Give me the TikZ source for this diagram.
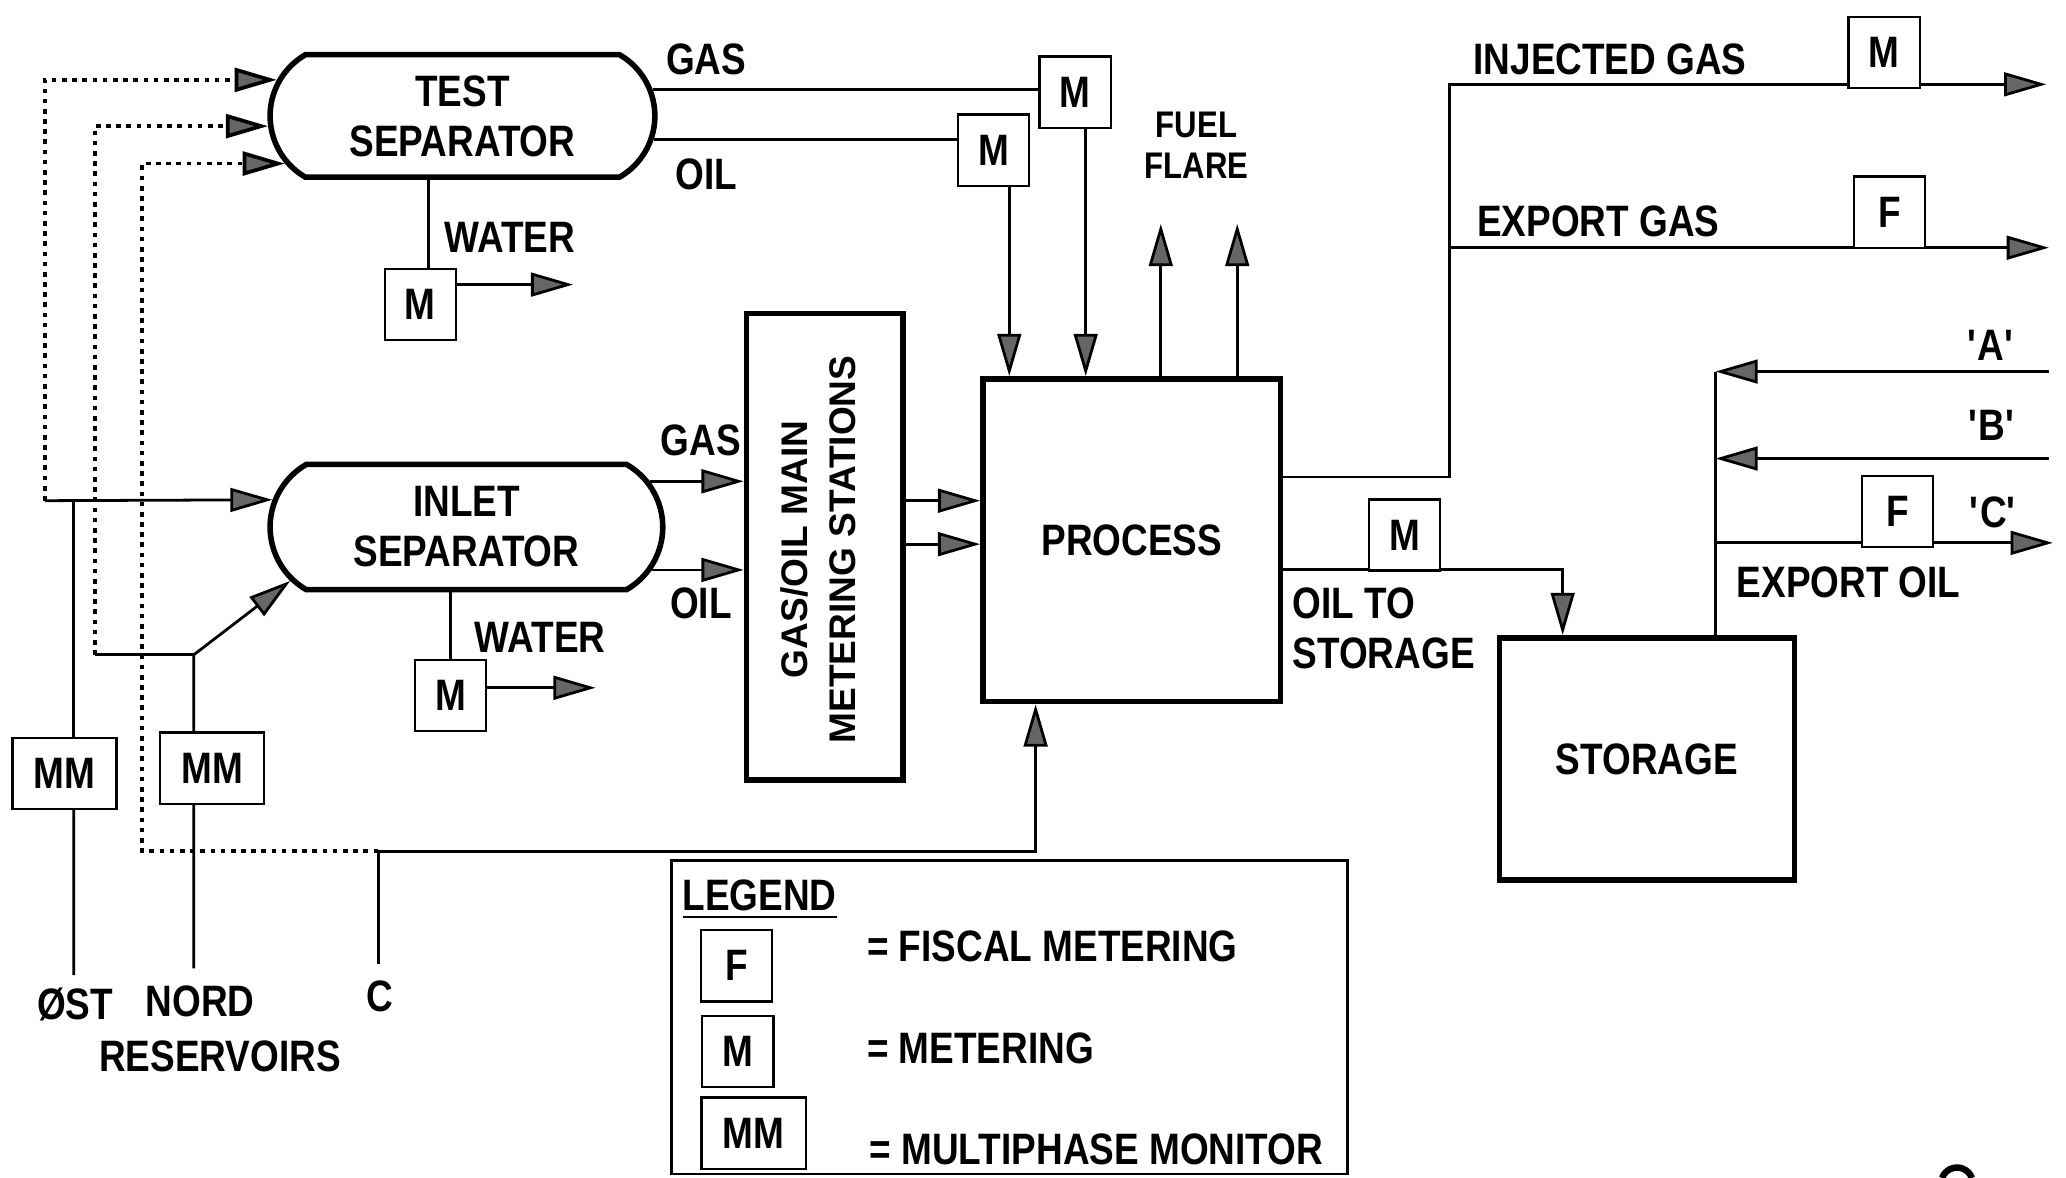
\documentclass[tikz,border=0pt]{standalone}
\usepackage{fontspec}
\setmainfont{Liberation Sans}[FakeStretch=0.84]
\newfontfamily\stationfont{Liberation Sans}
\usetikzlibrary{arrows.meta, shapes.misc, calc}

\begin{document}
\begin{tikzpicture}[x=0.1mm, y=-0.1mm, line width=0.6pt,
  every node/.style={font=\bfseries\fontsize{9.5}{10.8}\selectfont, inner sep=0pt, align=center},
  flow/.style={-{Triangle[length=3.2mm, width=1.8mm, fill=black!60]}},
  testline/.style={line width=0.8pt, dash pattern=on 1pt off 1.2pt},
  vessel/.style={draw, rounded rectangle, rounded rectangle arc length=120, line width=1.2pt},
  unit/.style={draw, line width=1.2pt},
  meter/.style={draw, fill=white, line width=0.5pt, minimum width=5.4mm, minimum height=5.4mm},
  mmeter/.style={meter, minimum width=7.9mm}]

\useasboundingbox (0,0) rectangle (1568,894);

% 装置
\node[vessel, minimum width=29.2mm, minimum height=9.3mm] (testsep) at (351,88) {TEST\\SEPARATOR};
\node[vessel, minimum width=29.8mm, minimum height=9.5mm] (inletsep) at (354,400) {INLET\\SEPARATOR};
\node[unit, minimum width=11.9mm, minimum height=35.4mm] (mstation) at (626,415) {};
\node[rotate=90, font=\stationfont\bfseries\fontsize{8}{10.5}\selectfont] (mslabel) at (621,417) {GAS/OIL MAIN\\METERING STATIONS};
\node[unit, minimum width=22.6mm, minimum height=24.5mm] (process) at (859,410) {PROCESS};
\node[unit, minimum width=22.4mm, minimum height=18.4mm] (storage) at (1250,576) {STORAGE};

% メータ
\foreach \n/\x/\y/\t in {mgas/816/70/M, moil/754/114/M, mtw/319/231/M, miw/342/528/M,
    minj/1430/40/M, fgas/1434/161/F, mstor/1066/406/M, foil/1440/388/F}
  \node[meter] (\n) at (\x,\y) {\t};
\node[mmeter] (mmost) at (49,587) {MM};
\node[mmeter] (mmnord) at (161,583) {MM};

% テストセパレータ
\draw (testsep.8) -- (testsep.8 -| mgas.west);
\draw (testsep.353) -- (testsep.353 -| moil.west);
\coordinate (oilin) at ([xshift=1.2mm]moil.south);
\coordinate (gasin) at ([xshift=0.8mm]mgas.south);
\draw[flow] (oilin) -- (oilin |- process.north);
\draw[flow] (gasin) -- (gasin |- process.north);
\coordinate (twout) at ([xshift=0.6mm]mtw.north);
\coordinate (twend) at (435,216);
\draw (twout |- testsep.south) -- (twout);
\draw[flow] (mtw.east |- twend) -- (twend);

% インレットセパレータ
\draw (inletsep.south -| miw.north) -- (miw.north);
\coordinate (iwend) at (452,522);
\draw[flow] (miw.east |- iwend) -- (iwend);
\draw[flow] (inletsep.14) -- (inletsep.14 -| mstation.west);
\draw[flow] (inletsep.347) -- (inletsep.347 -| mstation.west);
\coordinate (pin1) at ([yshift=3mm]process.west);
\coordinate (pin2) at ([yshift=-0.3mm]process.west);
\draw[flow] (pin1 -| mstation.east) -- (pin1);
\draw[flow] (pin2 -| mstation.east) -- (pin2);

% 燃料・フレア
\coordinate (fuel) at (881,170);
\coordinate (flare) at (939,170);
\draw[flow] (fuel |- process.north) -- (fuel);
\draw[flow] (flare |- process.north) -- (flare);

% ガス出口
\coordinate (gasout) at ([yshift=4.8mm]process.east);
\coordinate (riser) at (1100,64);
\coordinate (injend) at (1553,64);
\coordinate (expend) at (1555,188);
\draw (gasout) -| (riser) -- (riser -| minj.west);
\draw[flow] (minj.east |- injend) -- (injend);
\draw (riser |- expend) -- (expend -| fgas.west);
\draw[flow] (fgas.east |- expend) -- (expend);

% 貯蔵
\coordinate (oilout) at ([yshift=-2.2mm]process.east);
\coordinate (stin) at ([xshift=-6.4mm]storage.north);
\draw (oilout) -- (oilout -| mstor.west);
\draw[flow] (mstor.east |- oilout) -| (stin);
\coordinate (expoil) at ([xshift=5.2mm]storage.north);
\coordinate (aend) at (1555,282);
\coordinate (bend) at (1555,348);
\coordinate (cexp) at (1558,412);
\draw (expoil) -- (expoil |- aend);
\draw[flow] (aend) -- (aend -| expoil);
\draw[flow] (bend) -- (bend -| expoil);
\draw (expoil |- cexp) -- (cexp -| foil.west);
\draw[flow] (foil.east |- cexp) -- (cexp);

% 油層
\coordinate (ostjct) at (34,380);
\coordinate (ostup) at ([xshift=0.7mm]mmost.north);
\coordinate (ostdown) at ([xshift=0.7mm]mmost.south);
\coordinate (ostend) at (56,740);
\draw (ostend) -- (ostdown);
\draw (ostup) -- (ostup |- ostjct);
\draw[flow] (ostjct) -- (inletsep.172);
\draw[testline, flow] (ostjct) |- (testsep.169);

\coordinate (nordup) at ([xshift=-1.4mm]mmnord.north);
\coordinate (norddown) at ([xshift=-1.4mm]mmnord.south);
\coordinate (nordend) at (147,735);
\coordinate (nordjct) at (147,497);
\coordinate (nordcorner) at (72,497);
\draw (nordend) -- (norddown);
\draw (nordup) -- (nordjct);
\draw[flow] (nordjct) -- (inletsep.197);
\draw (nordcorner) -- (nordjct);
\draw[testline, flow] (nordcorner) |- (testsep.183);

\coordinate (cres) at (287,732);
\coordinate (cjct) at (287,646);
\coordinate (ccorner) at (108,646);
\coordinate (cin) at ([xshift=-7.3mm]process.south);
\draw (cres) -- (cjct);
\draw[flow] (cjct) -| (cin);
\draw[testline, flow] (cjct) -- (ccorner) |- (testsep.195);

% ラベル
\node (gas1) at (536,45) {GAS};
\node (oil1) at (536,132) {OIL};
\node (water1) at (387,180) {WATER};
\node (gas2) at (532,334) {GAS};
\node (oil2) at (532,458) {OIL};
\node (water2) at (410,484) {WATER};
\node[font=\bfseries\fontsize{8}{8.8}\selectfont] (fuelflare) at (908,110) {FUEL\\FLARE};
\node (injlbl) at (1222,45) {INJECTED GAS};
\node (explbl) at (1213,168) {EXPORT GAS};
\node (albl) at (1511,262) {\textquotesingle A\textquotesingle};
\node (blbl) at (1512,323) {\textquotesingle B\textquotesingle};
\node (clbl) at (1513,389) {\textquotesingle C\textquotesingle};
\node (eolbl) at (1403,442) {EXPORT OIL};
\node[anchor=west, align=left] (otslbl) at (980,477) {OIL TO\\STORAGE};
\node (ostlbl) at (57,762) {ØST};
\node (nordlbl) at (152,760) {NORD};
\node (creslbl) at (288,756) {C};
\node (reslbl) at (167,802) {RESERVOIRS};

% 凡例
\node[draw, line width=0.6pt, minimum width=51.3mm, minimum height=23.8mm] (legend) at (766,772) {};
\node[anchor=west] (leghead) at (517,683) {\underline{LEGEND}};
\node[meter] (legf) at (559,733) {F};
\node[meter] (legm) at (560,798) {M};
\node[mmeter] (legmm) at (572,860) {MM};
\node[anchor=west] (legftxt) at (657,718) {= FISCAL METERING};
\node[anchor=west] (legmtxt) at (657,796) {= METERING};
\node[anchor=west] (legmmtxt) at (659,872) {= MULTIPHASE MONITOR};

\draw[line width=1.4pt] (1474,894) arc[start angle=160, end angle=20, radius=1.2mm];

\end{tikzpicture}
\end{document}
